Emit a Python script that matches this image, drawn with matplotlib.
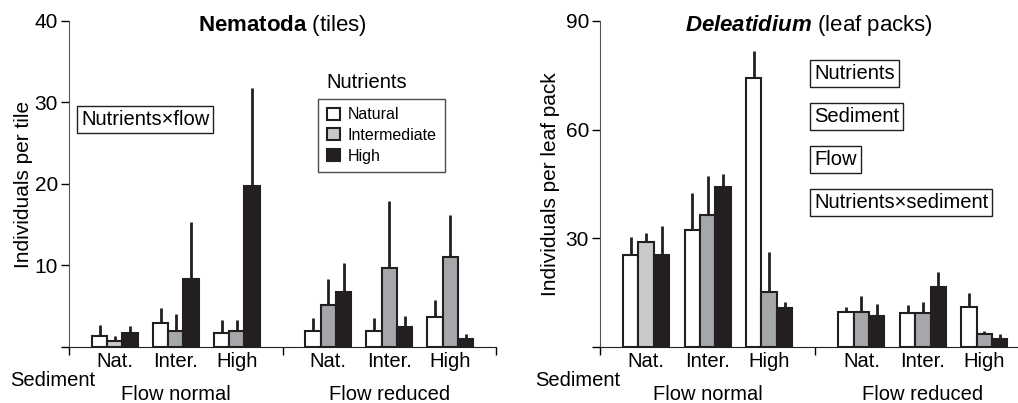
import numpy as np
import matplotlib.pyplot as plt

plt.rcParams['font.family'] = ['Liberation Sans', 'DejaVu Sans']
plt.rcParams['mathtext.fontset'] = 'custom'
plt.rcParams['mathtext.rm'] = 'Liberation Sans'
plt.rcParams['mathtext.bf'] = 'Liberation Sans:bold'
plt.rcParams['mathtext.bfit'] = 'Liberation Sans:italic:bold'

nutrients = ["Natural", "Intermediate", "High"]
sediment = ["Nat.", "Inter.", "High"]
flows = ["Flow normal", "Flow reduced"]

# Nematoda (tiles): 6 groups = flow normal Nat/Inter/High, flow reduced Nat/Inter/High
nem_natural = [1.3, 3.0, 1.7, 2.0, 2.0, 3.65]
nem_natural_se = [1.45, 1.75, 1.65, 1.55, 1.55, 2.1]
nem_inter = [0.7, 2.0, 2.0, 5.1, 9.7, 11.0]
nem_inter_se = [0.7, 2.05, 1.25, 3.2, 8.2, 5.2]
nem_high = [1.7, 8.4, 19.7, 6.7, 2.4, 1.0]
nem_high_se = [0.9, 6.9, 12.1, 3.55, 1.45, 0.65]

# Deleatidium (leaf packs)
del_natural = [25.3, 32.4, 74.2, 9.75, 9.4, 11.1]
del_natural_se = [5.0, 10.1, 7.4, 1.25, 2.3, 3.7]
del_inter = [29.0, 36.4, 15.1, 9.75, 9.4, 3.5]
del_inter_se = [2.6, 10.9, 11.1, 4.25, 3.0, 0.9]
del_high = [25.3, 44.3, 10.8, 8.5, 16.6, 2.2]
del_high_se = [8.0, 3.4, 1.5, 3.3, 4.1, 1.5]

colors = ["white", "#a6a7aa", "#231f20"]
light_gray = "#c8c9cb"

groups = np.array([0, 1, 2, 3.5, 4.5, 5.5])
w = 0.25
fs = 14.5

fig = plt.figure(figsize=(10.18, 4.03), dpi=100)
ax1 = fig.add_axes([0.0678, 0.139, 0.4195, 0.809])
ax2 = fig.add_axes([0.5894, 0.139, 0.4096, 0.809])


def draw(ax, series, errs, ymax, yticks, ylabel, lpad):
    for i, (vals, se) in enumerate(zip(series, errs)):
        x = groups + (i - 1) * w
        fc = [colors[i]] * len(x)
        if i == 1:
            fc[0] = light_gray
        ax.bar(x, vals, width=w, color=fc, edgecolor="#231f20", linewidth=1.5, zorder=3)
        ax.errorbar(x, vals, yerr=[np.zeros(len(vals)), se], fmt="none",
                    ecolor="#231f20", elinewidth=2, capsize=0, zorder=2)
    ax.set_ylim(0, ymax)
    ax.set_yticks(yticks)
    ax.set_yticklabels([str(t) if t else "" for t in yticks], fontsize=15)
    ax.tick_params(axis="y", direction="out", length=6, width=1, pad=2)
    ax.set_xticks([-0.75, 2.75, 6.25])
    ax.set_xticklabels([])
    ax.tick_params(axis="x", direction="out", length=6, width=1)
    for s in ["top", "right"]:
        ax.spines[s].set_visible(False)
    ax.spines["left"].set_color("#555555")
    ax.spines["bottom"].set_color("#231f20")
    ax.set_ylabel(ylabel, fontsize=15, labelpad=lpad)
    for g, lab in zip(groups, sediment * 2):
        ax.text(g, -0.046, lab, transform=ax.get_xaxis_transform(), ha="center",
                va="center", fontsize=fs)
    ax.text(np.mean(groups[:3]), -0.162, flows[0], transform=ax.get_xaxis_transform(),
            ha="center", va="baseline", fontsize=fs)
    ax.text(np.mean(groups[3:]), -0.162, flows[1], transform=ax.get_xaxis_transform(),
            ha="center", va="baseline", fontsize=fs)


draw(ax1, [nem_natural, nem_inter, nem_high], [nem_natural_se, nem_inter_se, nem_high_se],
     40, [0, 10, 20, 30, 40], "Individuals per tile", 1)
ax1.set_xlim(-0.75, 6.25)
ax1.text(-0.138, -0.104, "Sediment", transform=ax1.transAxes, ha="left", va="center", fontsize=fs)
ax1.text(0.5, 0.985, r"$\mathbf{Nematoda}$ (tiles)", transform=ax1.transAxes, ha="center",
         va="center", fontsize=16)
ax1.text(-0.55, 27.9, "Nutrients×flow", ha="left", va="center", fontsize=fs,
         bbox=dict(boxstyle="square,pad=0.2", fc="white", ec="#231f20", lw=1))
ax1.text(4.13, 32.4, "Nutrients", ha="center", va="center", fontsize=fs)
handles = [plt.Rectangle((0, 0), 1, 1, fc=c, ec="#231f20", lw=1.5)
           for c in ["white", light_gray, "#231f20"]]
leg = ax1.legend(handles, nutrients, loc="upper left", bbox_to_anchor=(0.583, 0.762),
                 borderaxespad=0, fontsize=11.5, frameon=True, fancybox=False,
                 edgecolor="#231f20", handlelength=0.8, handleheight=0.8,
                 handletextpad=0.5, labelspacing=0.35, borderpad=0.55)
leg.get_frame().set_linewidth(1)

draw(ax2, [del_natural, del_inter, del_high], [del_natural_se, del_inter_se, del_high_se],
     90, [0, 30, 60, 90], "Individuals per leaf pack", 4)
ax2.set_xlim(-0.75, 6.03)
ax2.text(-0.156, -0.104, "Sediment", transform=ax2.transAxes, ha="left", va="center", fontsize=fs)
ax2.text(0.5, 0.985, r"$\mathbfit{Deleatidium}$ (leaf packs)", transform=ax2.transAxes,
         ha="center", va="center", fontsize=16)
effects = ["Nutrients", "Sediment", "Flow", "Nutrients×sediment"]
for k, lab in enumerate(effects):
    ax2.text(2.73, 75.6 - k * 11.87, lab, ha="left", va="center", fontsize=fs,
             bbox=dict(boxstyle="square,pad=0.2", fc="white", ec="#231f20", lw=1))

fig.savefig("out.png", dpi=100)
